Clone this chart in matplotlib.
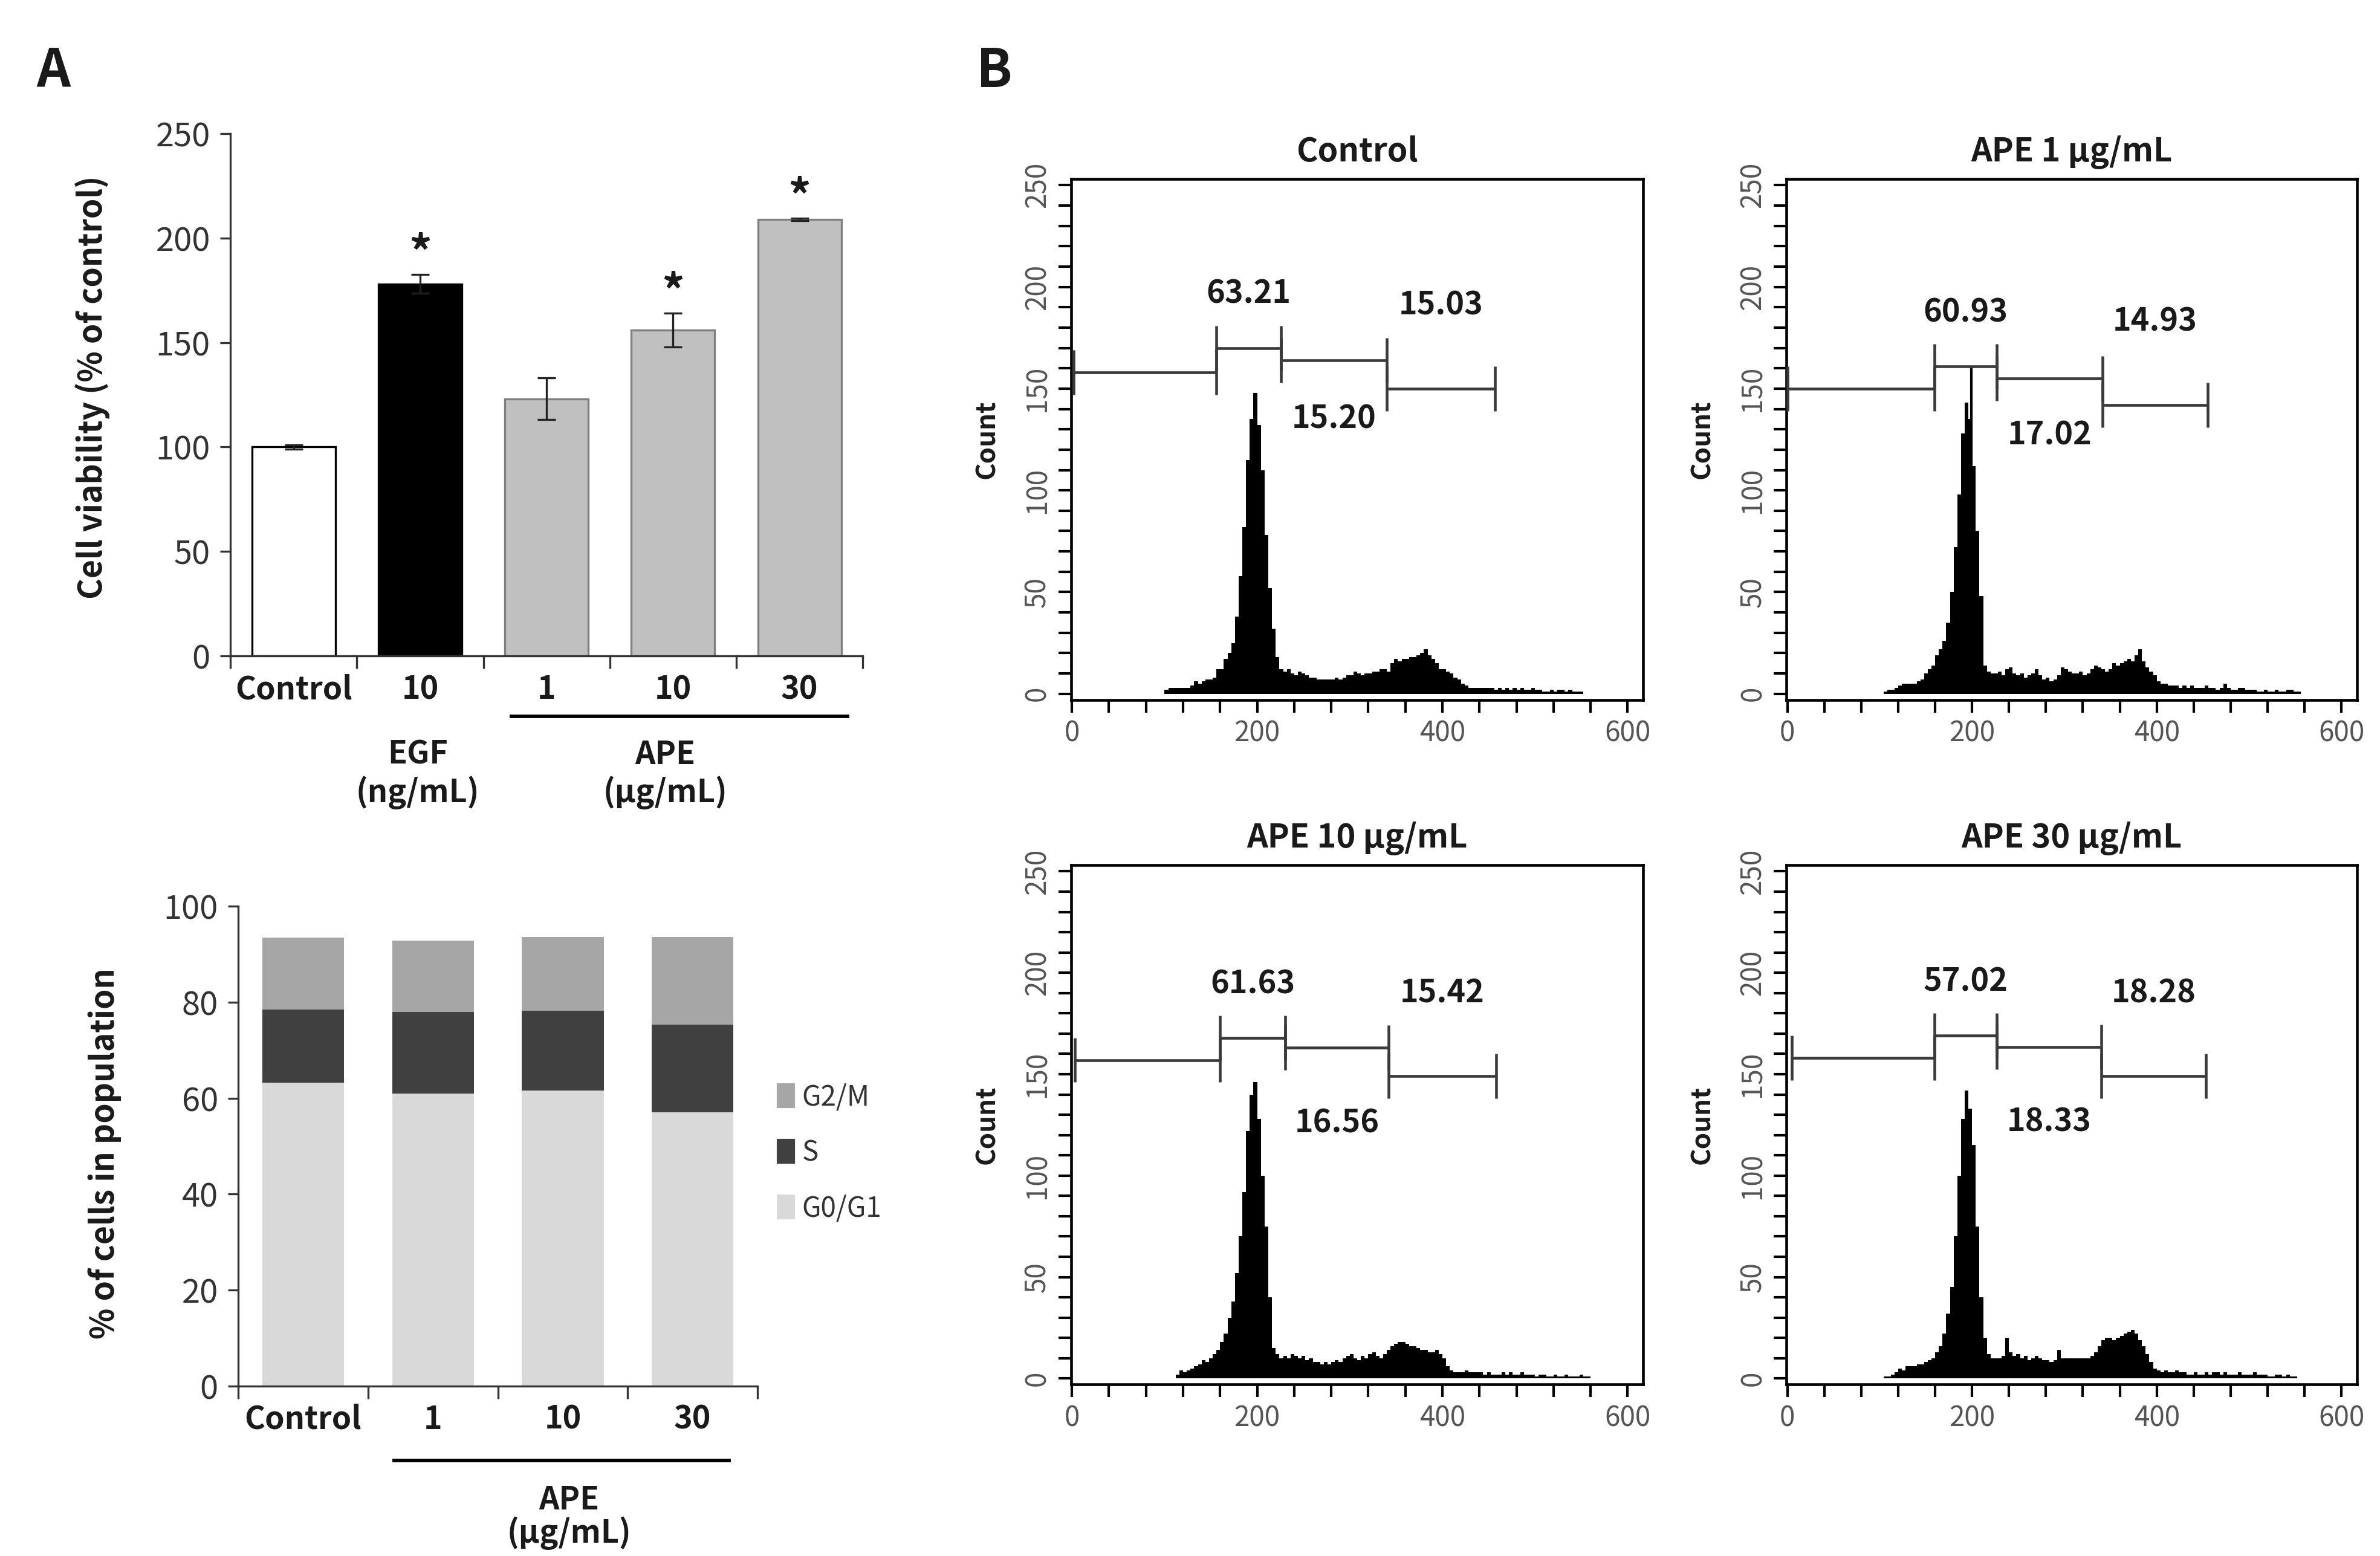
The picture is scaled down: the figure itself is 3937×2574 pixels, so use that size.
import numpy as np
import matplotlib
matplotlib.use("Agg")
import matplotlib.pyplot as plt
from matplotlib.patches import Patch
from matplotlib.transforms import blended_transform_factory

plt.rcParams['font.family'] = ['Noto Sans CJK KR', 'DejaVu Sans']

# ---------------- data ----------------
viab_labels = ['Control', '10', '1', '10', '30']
viab_values = [100, 178, 123, 156, 209]
viab_err = [1, 4.5, 10, 8, 0.5]
viab_sig = [False, True, False, True, True]
viab_colors = ['white', 'black', '#c0c0c0', '#c0c0c0', '#c0c0c0']
viab_edges = ['black', 'black', '#808080', '#808080', '#808080']

cycle_labels = ['Control', '1', '10', '30']
g0g1 = [63.21, 60.93, 61.63, 57.02]
s_phase = [15.20, 17.02, 16.56, 18.33]
g2m = [15.03, 14.93, 15.42, 18.28]

hist_titles = ['Control', 'APE 1 μg/mL', 'APE 10 μg/mL', 'APE 30 μg/mL']
hist_bin_start = 100
hist_bin_width = 4

counts_control = [2, 3, 3, 3, 3, 3, 3, 4, 6, 5, 6, 7, 7, 8, 12, 12, 17, 20, 25, 38,
                  58, 82, 115, 135, 148, 132, 110, 78, 52, 32, 18, 12, 11, 12, 10, 9, 11, 10, 9, 8,
                  8, 7, 7, 7, 7, 7, 8, 7, 8, 9, 9, 11, 10, 9, 10, 10, 11, 11, 12, 12,
                  11, 15, 17, 16, 17, 17, 18, 18, 19, 20, 22, 19, 17, 15, 12, 12, 11, 10, 8, 7,
                  5, 4, 3, 3, 3, 3, 3, 3, 3, 2, 3, 2, 3, 2, 3, 2, 3, 2, 2, 3,
                  2, 2, 1, 1, 2, 1, 2, 2, 1, 2, 1, 1, 1, 0, 0]
counts_ape1 = [0, 1, 2, 2, 3, 4, 5, 5, 5, 5, 6, 7, 10, 12, 14, 19, 22, 26, 35, 50,
               72, 98, 128, 143, 135, 112, 80, 48, 14, 11, 10, 10, 11, 9, 12, 13, 10, 9, 10, 8,
               9, 10, 12, 9, 7, 8, 6, 7, 9, 13, 12, 11, 10, 10, 11, 9, 10, 12, 14, 13,
               12, 11, 12, 15, 14, 15, 16, 17, 16, 19, 22, 16, 13, 11, 9, 6, 5, 5, 4, 4,
               4, 3, 4, 3, 4, 3, 3, 3, 4, 3, 3, 2, 3, 5, 3, 2, 2, 3, 3, 2,
               2, 2, 1, 1, 2, 1, 1, 2, 1, 1, 2, 2, 1, 1, 0]
counts_ape10 = [0, 0, 0, 2, 4, 3, 4, 5, 6, 7, 9, 8, 10, 12, 14, 18, 22, 30, 38, 52,
                70, 92, 122, 140, 146, 128, 100, 75, 40, 15, 12, 10, 11, 10, 12, 11, 10, 11, 9, 10,
                8, 8, 7, 8, 7, 8, 9, 8, 10, 11, 12, 10, 9, 11, 10, 12, 13, 11, 10, 12,
                14, 16, 17, 18, 18, 17, 16, 16, 15, 14, 14, 13, 13, 14, 12, 10, 6, 4, 3, 3,
                3, 4, 3, 3, 3, 3, 2, 3, 2, 2, 2, 3, 2, 3, 2, 2, 3, 2, 2, 2,
                1, 2, 2, 1, 1, 2, 1, 1, 2, 1, 1, 1, 2, 1, 1]
counts_ape30 = [0, 1, 1, 2, 3, 5, 4, 6, 6, 6, 7, 7, 8, 9, 10, 13, 16, 22, 32, 45,
                70, 100, 128, 142, 133, 115, 75, 40, 20, 12, 10, 10, 10, 11, 20, 13, 11, 12, 10, 11,
                9, 10, 11, 10, 9, 9, 8, 9, 14, 10, 10, 10, 10, 10, 10, 10, 10, 11, 13, 16,
                19, 20, 20, 19, 20, 21, 22, 23, 24, 22, 19, 16, 12, 8, 5, 4, 3, 4, 3, 3,
                4, 3, 3, 2, 2, 3, 2, 2, 3, 2, 3, 3, 2, 3, 2, 2, 2, 3, 2, 2,
                2, 3, 2, 2, 2, 1, 1, 2, 2, 1, 2, 1, 1, 0, 0]
hist_counts = [counts_control, counts_ape1, counts_ape10, counts_ape30]

# single-channel spike seen in APE 1 histogram (channel, count)
spike_ape1 = (199, 161)

gate_bounds = [[2, 156, 226, 340, 457],
               [0, 159, 227, 341, 455],
               [3, 160, 230, 342, 458],
               [5, 159, 227, 340, 453]]
gate_levels = [[158, 170, 164, 150],
               [150, 161, 155, 142],
               [157, 168, 163, 149],
               [158, 169, 163.5, 149]]
gate_g0g1_text = ['63.21', '60.93', '61.63', '57.02']
gate_s_text = ['15.20', '17.02', '16.56', '18.33']
gate_g2m_text = ['15.03', '14.93', '15.42', '18.28']

# ---------------- figure ----------------
W, H = 3937, 2574
DPI = 300
fig = plt.figure(figsize=(W / DPI, H / DPI), dpi=DPI)
fig.patch.set_facecolor('white')

TXT = '#1a1a1a'
TICK_C = '#333333'
LAB_FS = 12.5

# panel letters
fig.text(0.0225, 0.954, 'A', fontsize=21, fontweight='bold', ha='center', va='center', color=TXT)
fig.text(0.4177, 0.954, 'B', fontsize=21, fontweight='bold', ha='center', va='center', color=TXT)

# ---------- A top: viability ----------
ax1 = fig.add_axes([0.0968, 0.5785, 0.2657, 0.3356])
x1 = np.arange(len(viab_values))
ax1.bar(x1, viab_values, width=0.66, color=viab_colors, edgecolor=viab_edges, linewidth=0.8, zorder=2)
ax1.errorbar(x1, viab_values, yerr=viab_err, fmt='none', ecolor='#222222', elinewidth=0.8,
             capsize=3.5, capthick=0.8, zorder=3)
for xi, v, e, s in zip(x1, viab_values, viab_err, viab_sig):
    if s:
        ax1.text(xi, v + e + 9, '*', ha='center', va='center', fontsize=18, fontweight='bold', color=TXT)
ax1.set_xlim(-0.5, len(viab_values) - 0.5)
ax1.set_ylim(0, 250)
ax1.set_yticks(np.arange(0, 251, 50))
ax1.set_xticks(np.arange(-0.5, len(viab_values), 1.0))
ax1.set_xticklabels([])
ax1.set_xticks(x1, minor=True)
ax1.set_xticklabels(viab_labels, minor=True, fontsize=LAB_FS, fontweight='bold', color=TXT)
ax1.tick_params(axis='x', which='minor', length=0, pad=7)
ax1.tick_params(axis='x', which='major', length=5, width=0.8, direction='out', color='#333333')
ax1.tick_params(axis='y', length=4, width=0.8, direction='out', labelsize=13, labelcolor=TICK_C, color='#333333', pad=4)
for sp in ['top', 'right']:
    ax1.spines[sp].set_visible(False)
for sp in ['left', 'bottom']:
    ax1.spines[sp].set_linewidth(0.8)
    ax1.spines[sp].set_color('#333333')
ax1.set_ylabel('Cell viability (% of control)', fontsize=12.8, fontweight='bold', color=TXT)
ax1.yaxis.set_label_coords(-0.19, 0.514)

tr1 = blended_transform_factory(ax1.transData, fig.transFigure)
ax1.plot([1.72, 4.38], [0.5395, 0.5395], transform=tr1, color='black', lw=1.4, clip_on=False)
ax1.text(0.98, 0.515, 'EGF', transform=tr1, ha='center', va='center', fontsize=LAB_FS, fontweight='bold', color=TXT)
ax1.text(0.98, 0.4907, '(ng/mL)', transform=tr1, ha='center', va='center', fontsize=LAB_FS, fontweight='bold', color=TXT)
ax1.text(2.94, 0.515, 'APE', transform=tr1, ha='center', va='center', fontsize=LAB_FS, fontweight='bold', color=TXT)
ax1.text(2.94, 0.4907, '(μg/mL)', transform=tr1, ha='center', va='center', fontsize=LAB_FS, fontweight='bold', color=TXT)

# ---------- A bottom: cell cycle stacked ----------
ax2 = fig.add_axes([0.1001, 0.1093, 0.2182, 0.3083])
x2 = np.arange(len(cycle_labels))
c_g0 = '#d9d9d9'
c_s = '#404040'
c_g2 = '#a6a6a6'
ax2.bar(x2, g0g1, width=0.63, color=c_g0, zorder=2)
ax2.bar(x2, s_phase, width=0.63, bottom=g0g1, color=c_s, zorder=2)
ax2.bar(x2, g2m, width=0.63, bottom=np.array(g0g1) + np.array(s_phase), color=c_g2, zorder=2)
ax2.set_xlim(-0.5, len(cycle_labels) - 0.5)
ax2.set_ylim(0, 100)
ax2.set_yticks(np.arange(0, 101, 20))
ax2.set_xticks(np.arange(-0.5, len(cycle_labels), 1.0))
ax2.set_xticklabels([])
ax2.set_xticks(x2, minor=True)
ax2.set_xticklabels(cycle_labels, minor=True, fontsize=LAB_FS, fontweight='bold', color=TXT)
ax2.tick_params(axis='x', which='minor', length=0, pad=7)
ax2.tick_params(axis='x', which='major', length=5, width=0.8, direction='out', color='#333333')
ax2.tick_params(axis='y', length=4, width=0.8, direction='out', labelsize=13, labelcolor=TICK_C, color='#333333', pad=4)
for sp in ['top', 'right']:
    ax2.spines[sp].set_visible(False)
for sp in ['left', 'bottom']:
    ax2.spines[sp].set_linewidth(0.8)
    ax2.spines[sp].set_color('#333333')
ax2.set_ylabel('% of cells in population', fontsize=12.8, fontweight='bold', color=TXT)
ax2.yaxis.set_label_coords(-0.225, 0.484)

tr2 = blended_transform_factory(ax2.transData, fig.transFigure)
ax2.plot([0.70, 3.28], [0.0615, 0.0615], transform=tr2, color='black', lw=1.4, clip_on=False)
ax2.text(2.05, 0.036, 'APE', transform=tr2, ha='center', va='center', fontsize=LAB_FS, fontweight='bold', color=TXT)
ax2.text(2.05, 0.0146, '(μg/mL)', transform=tr2, ha='center', va='center', fontsize=LAB_FS, fontweight='bold', color=TXT)

handles = [Patch(color=c_g2), Patch(color=c_s), Patch(color=c_g0)]
fig.legend(handles, ['G2/M', 'S', 'G0/G1'], loc='center left', bbox_to_anchor=(0.327, 0.259),
           frameon=False, fontsize=11, handlelength=0.55, handleheight=0.85, handletextpad=0.3,
           labelspacing=0.95, labelcolor='#333333', borderaxespad=0, borderpad=0)

# ---------- B: histograms ----------
edges = hist_bin_start + hist_bin_width * np.arange(len(counts_control) + 1)
hist_rects = [[0.4500, 0.5502, 0.2405, 0.3347],
              [0.7506, 0.5502, 0.2398, 0.3347],
              [0.4500, 0.1102, 0.2405, 0.3337],
              [0.7506, 0.1102, 0.2398, 0.3337]]
s_label_drop = [29, 28, 37, 37]
GATE_C = '#3a3a3a'
for k in range(4):
    ax = fig.add_axes(hist_rects[k])
    ax.stairs(hist_counts[k], edges, fill=True, color='black', linewidth=0, zorder=2)
    if k == 1:
        ax.vlines(spike_ape1[0], 0, spike_ape1[1], color='black', lw=1.0, zorder=2)
    ax.set_xlim(-1, 617)
    ax.set_ylim(-3, 253)
    ax.set_xticks([0, 200, 400, 600])
    ax.set_xticks(np.arange(0, 601, 40), minor=True)
    ax.set_yticks(np.arange(0, 251, 50))
    ax.set_yticks(np.arange(0, 251, 10), minor=True)
    ax.set_yticklabels([str(v) for v in range(0, 251, 50)], rotation=90, va='center')
    ax.tick_params(which='both', direction='out', length=5, width=1.0, color='black')
    ax.tick_params(axis='both', which='major', labelsize=11, labelcolor='#555555')
    ax.tick_params(axis='x', which='major', pad=2.5)
    ax.tick_params(axis='y', which='major', pad=2.5)
    for sp in ax.spines.values():
        sp.set_linewidth(1.1)
        sp.set_color('black')
    ax.set_title(hist_titles[k], fontsize=13, fontweight='bold', color=TXT, pad=7)
    ax.set_ylabel('Count', fontsize=10.5, fontweight='bold', color=TXT)
    axw = hist_rects[k][2] * W
    ax.yaxis.set_label_coords(-118 / axw, 0.5)

    b = gate_bounds[k]
    lv = gate_levels[k]
    for g in range(4):
        ax.hlines(lv[g], b[g], b[g + 1], color=GATE_C, lw=1.1, zorder=3)
        ax.vlines([b[g], b[g + 1]], lv[g] - 11, lv[g] + 11, color=GATE_C, lw=1.1, zorder=3)
    ax.text((b[1] + b[2]) / 2, lv[1] + 26.5, gate_g0g1_text[k], ha='center', va='center',
            fontsize=12.5, fontweight='bold', color=TXT)
    ax.text((b[2] + b[3]) / 2, lv[2] - s_label_drop[k], gate_s_text[k], ha='center', va='center',
            fontsize=12.5, fontweight='bold', color=TXT)
    ax.text((b[3] + b[4]) / 2, lv[3] + 41, gate_g2m_text[k], ha='center', va='center',
            fontsize=12.5, fontweight='bold', color=TXT)

fig.savefig('out.png', dpi=DPI, facecolor='white')
